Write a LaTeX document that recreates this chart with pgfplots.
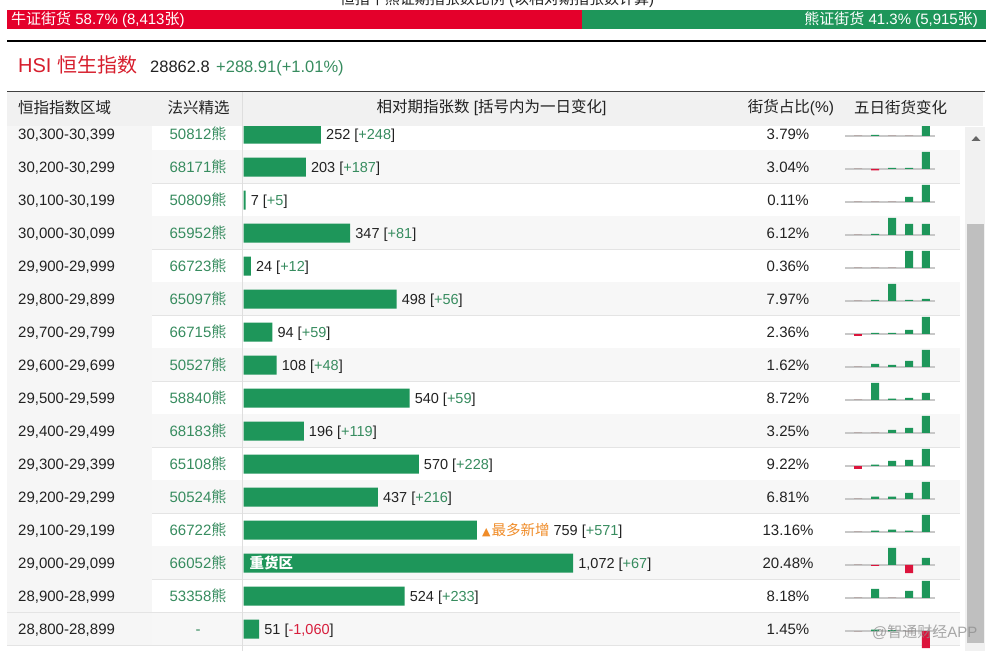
\documentclass[border=0pt]{standalone}
\usepackage{fontspec}
\setmainfont{Liberation Sans}
\newfontfamily\cjk{Noto Sans CJK SC}
\newfontfamily\sym{DejaVu Sans}
\usepackage{pgfplots}
\usepackage{pgfplotstable}
\pgfplotsset{compat=1.18}

\definecolor{bull}{RGB}{228,0,43}
\definecolor{bear}{RGB}{30,150,90}
\definecolor{barg}{RGB}{30,150,90}
\definecolor{up}{RGB}{55,140,95}
\definecolor{dn}{RGB}{215,30,60}
\definecolor{neg}{RGB}{220,20,60}
\definecolor{hsired}{RGB}{215,30,45}
\definecolor{hot}{RGB}{240,140,40}
\definecolor{rowgray}{RGB}{247,247,247}
\definecolor{colgray}{RGB}{246,246,246}
\definecolor{sepgray}{RGB}{228,228,228}
\definecolor{vline}{RGB}{222,222,222}
\definecolor{hdrgray}{RGB}{241,241,241}
\definecolor{txt}{RGB}{34,34,34}
\definecolor{basel}{RGB}{200,200,200}

\newcommand\fs[1]{\fontsize{#1pt}{#1pt}\selectfont}
\protected\def\xiong{{\cjk 熊}}
\protected\def\hotlabel{\textcolor{hot}{{\sym\fs{11}▲}\kern1pt{\cjk 最多新增}}\ }
\protected\def\p#1{\textcolor{up}{#1}}
\protected\def\m#1{\textcolor{dn}{#1}}

\pgfplotstableread[col sep=semicolon]{
row;range;code;count;label;share
0;30,300-30,399;50812\xiong;252;252 [\p{+248}];3.79
1;30,200-30,299;68171\xiong;203;203 [\p{+187}];3.04
2;30,100-30,199;50809\xiong;7;7 [\p{+5}];0.11
3;30,000-30,099;65952\xiong;347;347 [\p{+81}];6.12
4;29,900-29,999;66723\xiong;24;24 [\p{+12}];0.36
5;29,800-29,899;65097\xiong;498;498 [\p{+56}];7.97
6;29,700-29,799;66715\xiong;94;94 [\p{+59}];2.36
7;29,600-29,699;50527\xiong;108;108 [\p{+48}];1.62
8;29,500-29,599;58840\xiong;540;540 [\p{+59}];8.72
9;29,400-29,499;68183\xiong;196;196 [\p{+119}];3.25
10;29,300-29,399;65108\xiong;570;570 [\p{+228}];9.22
11;29,200-29,299;50524\xiong;437;437 [\p{+216}];6.81
12;29,100-29,199;66722\xiong;759;\hotlabel 759 [\p{+571}];13.16
13;29,000-29,099;66052\xiong;1072;1,072 [\p{+67}];20.48
14;28,900-28,999;53358\xiong;524;524 [\p{+233}];8.18
15;28,800-28,899;-;51;51 [\m{-1,060}];1.45
}\main

% five-day change sparklines (relative bar heights)
\pgfplotstableread{
day r0 r1 r2 r3 r4 r5 r6 r7 r8 r9 r10 r11 r12 r13 r14 r15
1 0 0 0 0 0 0 -2.5 0 0 0 -3.5 0 0 0 0 0
2 1 -1.3 0 1 0 1 1 3 17 0 1.3 2.3 1.3 -1 9 1.5
3 0 1 0 17 0 17 1 2 1.3 3 5 2.3 2.3 17 0 1
4 0 1 5 11 17 1 4 6 2 5 6 6 1.3 -8 7 0
5 17 17 17 11 17 2 17 17 7 17 17 17 17 7 17 -17
}\spark

\begin{document}
\begin{tikzpicture}
\useasboundingbox (0,0) rectangle (991pt,651pt);
\clip (0,0) rectangle (991pt,651pt);
\fill[white] (0,0) rectangle (991pt,651pt);

% row backgrounds and separators
\foreach \k in {0,...,15}{
  \pgfmathsetmacro\yt{533.5-33*\k}
  \pgfmathsetmacro\yb{500.5-33*\k}
  \ifodd\k \fill[rowgray] (152pt,\yb pt) rectangle (960pt,\yt pt); \fi
  \fill[colgray] (7pt,\yb pt) rectangle (152pt,\yt pt);
  \draw[sepgray, line width=1.5pt] (7pt,\yb pt) -- (960pt,\yb pt);
}
\draw[vline, line width=1pt] (242.5pt,0pt) -- (242.5pt,559pt);

% main bars
\begin{axis}[at={(243.5pt,533.5pt)}, anchor=north west, scale only axis,
  x=0.3075pt, y=33pt, y dir=reverse,
  xmin=0, xmax=1400, ymin=-0.5, ymax=15.5,
  hide axis, clip=false,
  xbar, bar width=19pt, bar shift=0pt,
  point meta=explicit symbolic,
  nodes near coords,
  every node near coord/.append style={anchor=base west, inner sep=0pt, xshift=5pt, yshift=-5.3pt, text=txt, font=\fs{14.5}},
]
\addplot[fill=barg, draw=none] table[x=count, y=row, meta=label]{\main};
\node[anchor=base west, inner sep=0pt, text=white, font=\cjk\bfseries\fs{14.5}, xshift=6pt, yshift=-5.5pt] at (axis cs:0,13) {重货区};
\end{axis}

% table text
\foreach \k in {0,...,15}{
  \pgfplotstablegetelem{\k}{range}\of\main \let\rng\pgfplotsretval
  \pgfplotstablegetelem{\k}{code}\of\main \let\cde\pgfplotsretval
  \pgfplotstablegetelem{\k}{share}\of\main \let\shr\pgfplotsretval
  \pgfmathsetmacro\yc{517-33*\k-5.3}
  \node[anchor=base west, inner sep=0pt, text=txt, font=\fs{15}] at (18pt,\yc pt) {\rng};
  \node[anchor=base, inner sep=0pt, text=up, font=\fs{15}] at (198pt,\yc pt) {\cde};
  \node[anchor=base, inner sep=0pt, text=txt, font=\fs{15}] at (788pt,\yc pt) {\shr\%};
}

% sparklines
\foreach \k in {0,...,15}{
  \pgfmathsetmacro\yb{515-33*\k}
  \begin{axis}[at={(845pt,\yb pt)}, anchor=west, scale only axis,
    width=90pt, height=34pt, xmin=0.235, xmax=5.53, ymin=-17, ymax=17,
    hide axis, clip=false, ybar, bar width=8pt, bar shift=0pt]
    \addplot[basel, line width=1.2pt, sharp plot, no marks] coordinates {(0.235,0) (5.53,0)};
    \addplot[fill=barg, draw=none, restrict y to domain=0:100] table[x=day, y=r\k]{\spark};
    \addplot[fill=neg, draw=none, restrict y to domain=-100:0] table[x=day, y=r\k]{\spark};
  \end{axis}
}

% header (covers top of first row)
\fill[hdrgray] (7pt,525pt) rectangle (983pt,558.5pt);
\draw[black!75, line width=1pt] (7pt,559pt) -- (985pt,559pt);
\draw[vline, line width=1pt] (242.5pt,525pt) -- (242.5pt,558.5pt);
\node[anchor=west, inner sep=0pt, text=txt, font=\cjk\fs{15.5}] at (18pt,543pt) {恒指指数区域};
\node[inner sep=0pt, text=txt, font=\cjk\fs{15.5}] at (198.5pt,543pt) {法兴精选};
\node[inner sep=0pt, text=txt, font=\fs{15.5}] at (491.5pt,543pt) {{\cjk 相对期指张数} [{\cjk 括号内为一日变化}]};
\node[inner sep=0pt, text=txt, font=\fs{15.5}] at (791pt,543pt) {{\cjk 街货占比}(\%)};
\node[inner sep=0pt, text=txt, font=\cjk\fs{15.5}] at (900.5pt,543pt) {五日街货变化};

% HSI line
\draw[black, line width=2pt] (7pt,610pt) -- (986pt,610pt);
\node[anchor=base west, inner sep=0pt, text=hsired, font=\fs{20}] at (18pt,578pt) {HSI {\cjk 恒生指数}};
\node[anchor=base west, inner sep=0pt, text=txt, font=\fs{16.5}] at (150pt,578pt) {28862.8};
\node[anchor=base west, inner sep=0pt, text=up, font=\fs{16.5}] at (216pt,578pt) {+288.91(+1.01\%)};

% bull / bear ratio bar
\begin{axis}[at={(7pt,631.5pt)}, anchor=west, scale only axis,
  width=979pt, height=19pt, xmin=0, xmax=100, ymin=0.5, ymax=1.5,
  hide axis, xbar stacked, bar width=19pt]
\addplot[fill=bull, draw=none] coordinates {(58.7,1)};
\addplot[fill=bear, draw=none] coordinates {(41.3,1)};
\end{axis}
\node[anchor=base west, inner sep=0pt, text=white, font=\fs{15}] at (11pt,626pt) {{\cjk 牛证街货} 58.7\% (8,413{\cjk 张})};
\node[anchor=base east, inner sep=0pt, text=white, font=\fs{15}] at (978pt,626pt) {{\cjk 熊证街货} 41.3\% (5,915{\cjk 张})};
\node[anchor=base, inner sep=0pt, text=txt, font=\fs{15}] at (497pt,646pt) {{\cjk 恒指牛熊证期指张数比例} ({\cjk 以相对期指张数计算})};

% scrollbar
\fill[hdrgray] (965pt,0pt) rectangle (985pt,524pt);
\fill[black!60] (971.5pt,510pt) -- (980.5pt,510pt) -- (976pt,515pt) -- cycle;
\fill[black!25] (967pt,8pt) rectangle (984pt,427pt);

% watermark
\node[anchor=base west, inner sep=0pt, text=black!45, opacity=0.75, font=\fs{15}] at (872pt,14pt) {@{\cjk 智通财经}APP};
\end{tikzpicture}
\end{document}
